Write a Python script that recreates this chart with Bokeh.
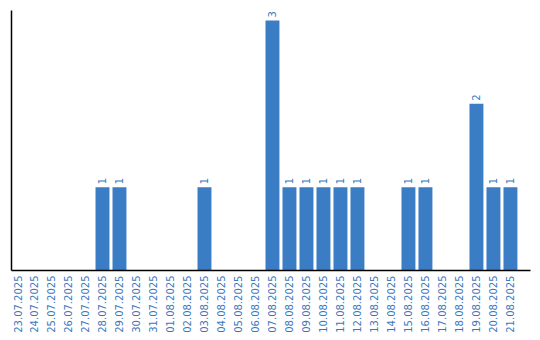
import math
from bokeh.plotting import figure
from bokeh.models import ColumnDataSource, Range1d, FixedTicker
from bokeh.core.properties import value
from bokeh.embed import file_html
from bokeh.resources import INLINE

dates = ["23.07.2025", "24.07.2025", "25.07.2025", "26.07.2025", "27.07.2025",
         "28.07.2025", "29.07.2025", "30.07.2025", "31.07.2025", "01.08.2025",
         "02.08.2025", "03.08.2025", "04.08.2025", "05.08.2025", "06.08.2025",
         "07.08.2025", "08.08.2025", "09.08.2025", "10.08.2025", "11.08.2025",
         "12.08.2025", "13.08.2025", "14.08.2025", "15.08.2025", "16.08.2025",
         "17.08.2025", "18.08.2025", "19.08.2025", "20.08.2025", "21.08.2025"]
counts = [0, 0, 0, 0, 0,
          1, 1, 0, 0, 0,
          0, 1, 0, 0, 0,
          3, 1, 1, 1, 1,
          1, 0, 0, 1, 1,
          0, 0, 2, 1, 1]

BLUE = "#3b7dc4"
LABEL = "#3a78be"

idx = list(range(len(dates)))
src = ColumnDataSource(dict(x=idx, y=counts))
nz = [i for i, c in enumerate(counts) if c > 0]
src_lab = ColumnDataSource(dict(x=[idx[i] for i in nz], y=[counts[i] for i in nz],
                                lab=[str(counts[i]) for i in nz]))

p = figure(output_backend="svg", toolbar_location=None,
           frame_width=519, frame_height=260,
           x_range=Range1d(-0.353, len(dates) + 0.18),
           y_range=Range1d(0, max(counts) * 260 / 250))
p.min_border_left = 11
p.min_border_right = 10
p.min_border_top = 10
p.min_border_bottom = 10
p.outline_line_color = None
p.xgrid.grid_line_color = None
p.ygrid.grid_line_color = None
p.background_fill_color = "white"
p.border_fill_color = "white"

p.vbar(x="x", top="y", width=0.82, source=src, color=BLUE, line_color=None)
p.text(x="x", y="y", text="lab", source=src_lab, angle=math.pi / 2,
       text_align="left", text_baseline="middle", y_offset=-3,
       text_font=value("DejaVu Sans"), text_font_size="10px", text_color=LABEL)

xa = p.xaxis[0]
xa.ticker = FixedTicker(ticks=idx)
xa.major_label_overrides = {i: d for i, d in zip(idx, dates)}
xa.major_label_orientation = math.pi / 2
xa.major_tick_line_color = None
xa.minor_tick_line_color = None
xa.major_tick_out = 0
xa.major_tick_in = 0
xa.major_label_standoff = 5
xa.major_label_text_font = "DejaVu Sans"
xa.major_label_text_font_size = "10px"
xa.major_label_text_color = LABEL
xa.axis_line_color = "black"
xa.axis_line_width = 1.5

ya = p.yaxis[0]
ya.ticker = FixedTicker(ticks=[])
ya.major_tick_line_color = None
ya.minor_tick_line_color = None
ya.major_tick_out = 0
ya.major_tick_in = 0
ya.major_label_standoff = 0
ya.axis_line_color = "black"
ya.axis_line_width = 1.5

open("out.html", "w").write(file_html(p, INLINE))
